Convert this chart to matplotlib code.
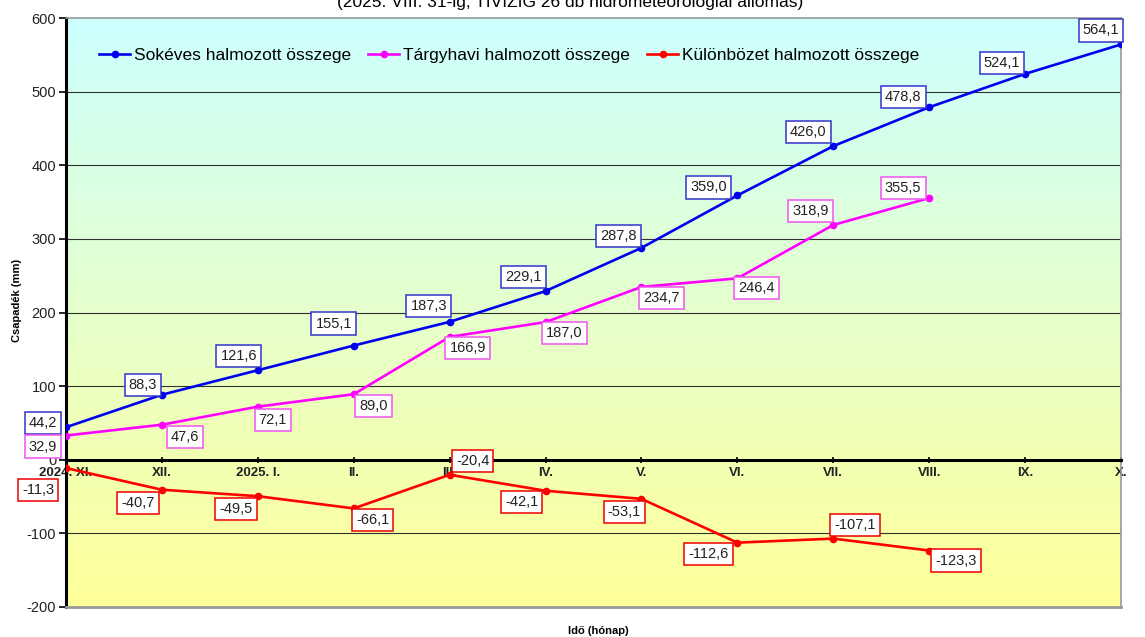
import numpy as np
import matplotlib.pyplot as plt
from matplotlib.colors import LinearSegmentedColormap

# ===================== adatok =====================
honapok = ['2024. XI.', 'XII.', '2025. I.', 'II.', 'III.', 'IV.', 'V.',
           'VI.', 'VII.', 'VIII.', 'IX.', 'X.']
sokeves = [44.2, 88.3, 121.6, 155.1, 187.3, 229.1, 287.8, 359.0, 426.0,
           478.8, 524.1, 564.1]
targyhavi = [32.9, 47.6, 72.1, 89.0, 166.9, 187.0, 234.7, 246.4, 318.9, 355.5]
kulonbozet = [-11.3, -40.7, -49.5, -66.1, -20.4, -42.1, -53.1, -112.6,
              -107.1, -123.3]
y_ticks = [-200, -100, 0, 100, 200, 300, 400, 500, 600]
# ==================================================

# címkék eltolása pixelben (dx, dy)
off_sokeves = [(-23, 4), (-19, 10), (-19, 14), (-20, 22), (-21, 16), (-22, 14),
               (-23, 12), (-29, 8), (-25, 14), (-26, 10), (-23, 11), (-20, 14)]
off_targyhavi = [(-23, -11), (23, -12), (15, -13), (20, -12), (18, -11),
                 (19, -11), (20, -11), (19, -10), (-23, 14), (-26, 10)]
off_kulonbozet = [(-28, -22), (-24, -13), (-22, -13), (19, -12), (23, 14),
                  (-24, -11), (-17, -13), (-29, -11), (22, 14), (27, -10)]

plt.rcParams['font.family'] = ['Liberation Sans', 'DejaVu Sans']

fig = plt.figure(figsize=(11.45, 6.37), dpi=100)
ax = fig.add_axes([66 / 1145, 30 / 637, (1121 - 66) / 1145, (607 - 18) / 637])

x = np.arange(len(honapok))
ax.set_xlim(0, len(honapok) - 1)
ax.set_ylim(-200, 600)

# háttér színátmenet (cián -> sárga)
cmap = LinearSegmentedColormap.from_list('bg', ['#FFFF99', '#CCFFFF'])
grad = np.linspace(0, 1, 256).reshape(-1, 1)
ax.imshow(grad, cmap=cmap, aspect='auto', origin='lower',
          extent=[0, 1, 0, 1], transform=ax.transAxes, zorder=0)

# rácsvonalak
for yv in y_ticks:
    if yv in (0, -200, 600):
        continue
    ax.axhline(yv, color='#333333', lw=0.8, zorder=1)

ax.plot(x, sokeves, color='#0000EE', lw=1.9, marker='o', ms=4.5,
        label='Sokéves halmozott összege', zorder=3)
ax.plot(x[:len(targyhavi)], targyhavi, color='#FF00FF', lw=1.9, marker='o', ms=4.5,
        label='Tárgyhavi halmozott összege', zorder=3)
ax.plot(x[:len(kulonbozet)], kulonbozet, color='#FF0000', lw=1.9, marker='o', ms=4.5,
        label='Különbözet halmozott összege', zorder=3)


def cimkek(ertekek, eltolasok, szin):
    for i, (v, (dx, dy)) in enumerate(zip(ertekek, eltolasok)):
        ax.annotate(f'{v:.1f}'.replace('.', ','), (x[i], v),
                    xytext=(dx, dy), textcoords='offset pixels',
                    ha='center', va='center', fontsize=10.5, color='#222222',
                    bbox=dict(boxstyle='square,pad=0.28', fc='white', ec=szin, lw=1.1),
                    zorder=5, annotation_clip=False)


cimkek(sokeves, off_sokeves, '#3333CC')
cimkek(targyhavi, off_targyhavi, '#EE55EE')
cimkek(kulonbozet, off_kulonbozet, '#EE0000')

# tengelyek
ax.spines['bottom'].set_position(('data', 0))
ax.spines['bottom'].set_linewidth(2.2)
ax.spines['bottom'].set_color('black')
ax.spines['left'].set_linewidth(2.2)
ax.spines['left'].set_color('black')
for s in ('top', 'right'):
    ax.spines[s].set_color('#999999')
    ax.spines[s].set_linewidth(1.2)
ax.plot([0, 1], [0, 0], transform=ax.transAxes, color='#999999', lw=2,
        clip_on=False, zorder=4)

ax.set_xticks(x)
ax.set_xticklabels(honapok, fontsize=9.5, fontweight='bold', color='#222222')
ax.tick_params(axis='x', direction='inout', length=5, width=1.2, pad=3)
ax.set_yticks(y_ticks)
ax.set_yticklabels([str(v) for v in y_ticks], fontsize=10.5, color='#222222')
ax.tick_params(axis='y', direction='out', length=5, width=1.2, pad=2)

fig.text(17 / 1145, 1 - 300 / 637, 'Csapadék (mm)', rotation=90, ha='center',
         va='center', fontsize=8, fontweight='bold')
fig.text(598 / 1145, 1 - 631 / 637, 'Idő (hónap)', ha='center', va='center',
         fontsize=8, fontweight='bold')
fig.text(570 / 1145, 1 - 2 / 637,
         '(2025. VIII. 31-ig, TIVIZIG 26 db hidrometeorológiai állomás)',
         ha='center', va='center', fontsize=12.5)

fig.legend(loc='center left', bbox_to_anchor=(92 / 1145, 1 - 55 / 637),
           ncol=3, frameon=False, fontsize=12.5, handlelength=1.8,
           handletextpad=0.2, columnspacing=1.0, borderaxespad=0)

fig.savefig('out.png', dpi=100)
